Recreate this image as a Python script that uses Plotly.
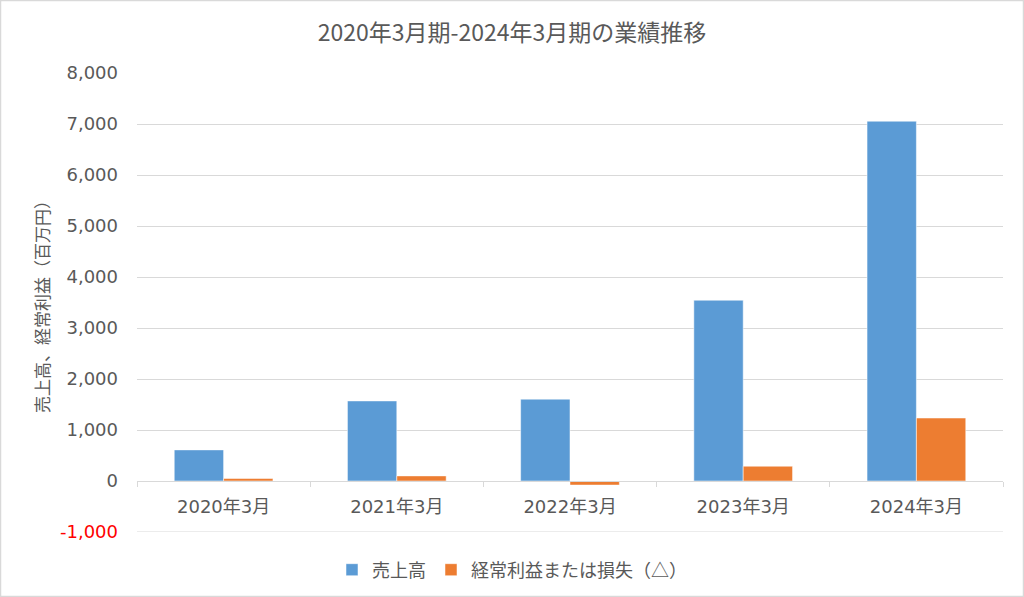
import plotly.graph_objects as go

categories = ["2020年3月", "2021年3月", "2022年3月", "2023年3月", "2024年3月"]
sales = [610, 1570, 1605, 3545, 7055]
ordinary_profit = [50, 100, -80, 290, 1235]
y_tickvals = [-1000, 0, 1000, 2000, 3000, 4000, 5000, 6000, 7000, 8000]
y_ticktext = ["<span style='color:#FF0000'>-1,000</span>", "0", "1,000", "2,000", "3,000",
              "4,000", "5,000", "6,000", "7,000", "8,000"]

TXT = "#595959"
GRID = "#D9D9D9"
FONT = "DejaVu Sans, Noto Sans CJK JP, sans-serif"

W, H = 1024, 597
L, R, T, B = 137, 21, 73, 65
PW, PH = W - L - R, H - T - B

fig = go.Figure()
fig.add_trace(go.Bar(name="売上高", x=categories, y=sales,
                     marker=dict(color="#5B9BD5", line=dict(color="rgba(255,255,255,0.5)", width=1))))
fig.add_trace(go.Bar(name="経常利益または損失（△）", x=categories, y=ordinary_profit,
                     marker=dict(color="#ED7D31", line=dict(color="rgba(255,255,255,0.5)", width=1))))

fig.update_layout(
    width=W, height=H,
    margin=dict(l=L, r=R, t=T, b=B, autoexpand=False),
    paper_bgcolor="white", plot_bgcolor="white",
    font=dict(family=FONT, color=TXT, size=17),
    barmode="group", bargap=0.43, bargroupgap=0,
    title=dict(text="2020年3月期-2024年3月期の業績推移", x=0.5, xref="container", xanchor="center",
               y=1 - 33 / H, yref="container", yanchor="middle",
               font=dict(family="Noto Sans CJK JP", size=23, color=TXT)),
    legend=dict(orientation="h", x=0.5, xanchor="center", xref="container",
                y=27 / H, yref="container", yanchor="middle", bgcolor="rgba(0,0,0,0)",
                font=dict(family="Noto Sans CJK JP", size=18, color=TXT), itemclick=False),
    xaxis=dict(type="category", anchor="free", position=1000 / 9000, automargin=False,
               showline=True, linecolor=GRID, linewidth=1,
               ticks="outside", tickson="boundaries", ticklen=5, tickcolor=GRID,
               showgrid=False, ticklabelstandoff=9,
               tickfont=dict(size=18, color=TXT)),
    yaxis=dict(range=[-1000, 8000], tickvals=y_tickvals, ticktext=y_ticktext, automargin=False,
               showgrid=True, gridcolor=GRID, gridwidth=1, zeroline=False,
               showline=False, ticks="", ticklabelstandoff=18,
               tickfont=dict(size=18, color=TXT),
               title=dict(text="売上高、経常利益（百万円）", standoff=6,
                          font=dict(family="Noto Sans CJK JP", size=17, color=TXT))),
    showlegend=True,
)

# bottom gridline at the axis minimum
fig.add_shape(type="line", xref="paper", yref="y", x0=0, x1=1, y0=y_tickvals[0], y1=y_tickvals[0],
              line=dict(color=GRID, width=1), layer="below")

fig.add_shape(type="rect", xref="paper", yref="paper",
              x0=(0.5 - L) / PW, x1=(W - 0.5 - L) / PW,
              y0=-(B - 0.5) / PH, y1=1 + (T - 0.5) / PH,
              line=dict(color=GRID, width=1.5), fillcolor="rgba(0,0,0,0)", layer="below")

fig.write_html("out.html")
